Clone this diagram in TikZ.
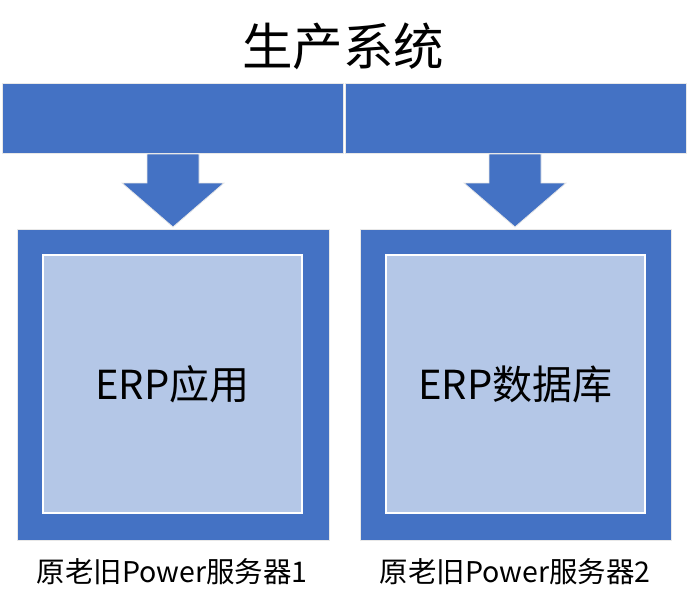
\documentclass[tikz,border=0pt]{standalone}
\usepackage{fontspec}
\setmainfont{Noto Sans CJK SC}
\definecolor{mblue}{HTML}{4472C4}
\definecolor{lblue}{HTML}{B4C7E7}
\definecolor{edgegray}{HTML}{E8E8E8}
\begin{document}
\begin{tikzpicture}[x=1pt,y=-1pt,
  bar/.style={fill=mblue,draw=edgegray,line width=1pt},
  outerbox/.style={fill=mblue,draw=edgegray,line width=1pt},
  innerbox/.style={fill=lblue,draw=white,line width=2pt},
  downarrow/.style={fill=mblue,draw=edgegray,line width=0.8pt},
  big/.style={font=\fontsize{40}{44}\selectfont},
  caplabel/.style={font=\fontsize{28.5}{32}\selectfont}]
\useasboundingbox (0,0) rectangle (688,606);
\node[font=\fontsize{50.5}{54}\selectfont] (title) at (343,46) {生产系统};
\path[bar] (2,83) rectangle (343,153);
\coordinate (barL) at (172,118);
\path[bar] (345,83) rectangle (686,153);
\coordinate (barR) at (515,118);
% arrows
\path[downarrow] (147,154) -- (199,154) -- (199,183) -- (224,183) -- (173,227) -- (122,183) -- (147,183) -- cycle;
\path[downarrow] (489,154) -- (541,154) -- (541,183) -- (566,183) -- (515,227) -- (464,183) -- (489,183) -- cycle;
% boxes
\path[outerbox] (17,229) rectangle (329,540);
\path[innerbox] (43,255) rectangle (302,513);
\node[big] (app) at (172.5,384) {ERP应用};
\path[outerbox] (360,229) rectangle (671,540);
\path[innerbox] (386,255) rectangle (645,513);
\node[big] (db) at (515.5,384) {ERP数据库};
\node[caplabel] (s1) at (172,572) {原老旧Power服务器1};
\node[caplabel] (s2) at (515,572) {原老旧Power服务器2};
\end{tikzpicture}
\end{document}
